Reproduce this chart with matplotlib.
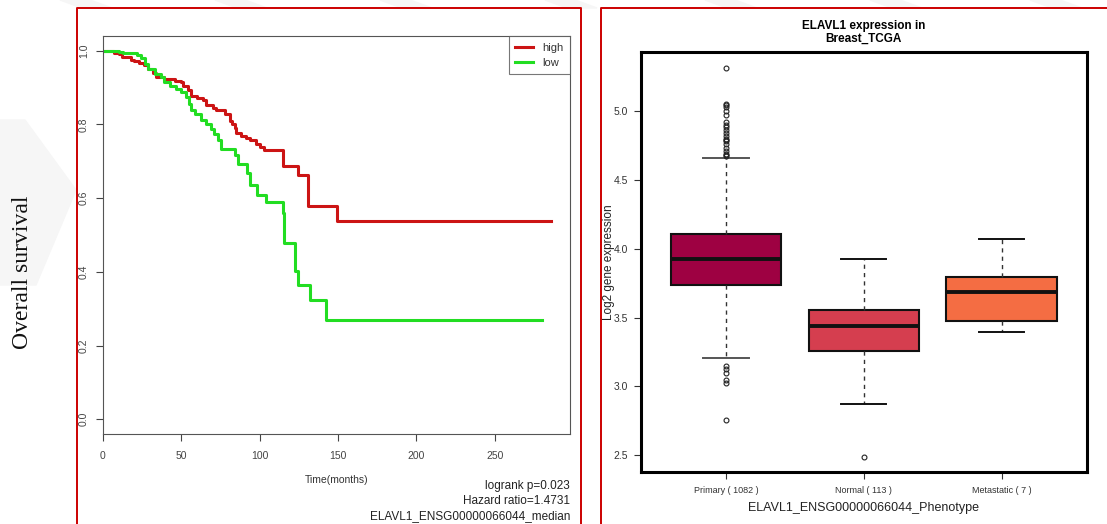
import matplotlib
matplotlib.use('Agg')
import matplotlib.pyplot as plt
from matplotlib.lines import Line2D
from matplotlib.patches import Polygon
import numpy as np

## data
# Kaplan-Meier curves (months, survival)
high_t = [0, 7, 10, 12, 18, 20, 23, 26, 29, 32, 34, 39, 46, 50, 51, 54, 56, 60, 64, 66,
          70, 72, 78, 81, 82, 84, 85, 88, 91, 94, 97.5, 100, 102.5, 115, 124.5, 131, 149, 286]
high_s = [1.0, 0.995, 0.99, 0.982, 0.976, 0.971, 0.967, 0.96, 0.95, 0.94, 0.93, 0.923, 0.919,
          0.914, 0.905, 0.894, 0.878, 0.872, 0.865, 0.852, 0.845, 0.838, 0.829, 0.81, 0.80,
          0.79, 0.776, 0.77, 0.764, 0.757, 0.748, 0.739, 0.73, 0.687, 0.662, 0.578, 0.538, 0.538]
low_t = [0, 10, 13, 22, 24.5, 27, 29, 33, 37, 39, 43, 46.5, 50, 52.7, 55, 56, 59, 62.5, 66,
         68.6, 71, 73.5, 75.5, 84.5, 86, 92, 93.6, 98.5, 104, 114.7, 115.7, 122.5, 124.5,
         132.4, 142.6, 280]
low_s = [1.0, 0.996, 0.993, 0.988, 0.98, 0.964, 0.95, 0.937, 0.928, 0.914, 0.905, 0.896,
         0.887, 0.874, 0.856, 0.838, 0.829, 0.813, 0.802, 0.788, 0.775, 0.757, 0.734, 0.716,
         0.694, 0.667, 0.635, 0.608, 0.59, 0.559, 0.477, 0.403, 0.365, 0.323, 0.27, 0.27]
km_xticks = [0, 50, 100, 150, 200, 250]
km_yticks = [0.0, 0.2, 0.4, 0.6, 0.8, 1.0]
km_notes = ['logrank p=0.023', 'Hazard ratio=1.4731', 'ELAVL1_ENSG00000066044_median']

# box plot summaries
groups = ['Primary ( 1082 )', 'Normal ( 113 )', 'Metastatic ( 7 )']
whis_lo = [3.21, 2.874, 3.396]
q1 = [3.739, 3.258, 3.473]
med = [3.923, 3.437, 3.686]
q3 = [4.107, 3.553, 3.795]
whis_hi = [4.657, 3.927, 4.07]
primary_out = [5.31, 5.05, 5.04, 5.03, 5.00, 4.97, 4.92, 4.90, 4.88, 4.86, 4.84, 4.82, 4.80,
               4.79, 4.78, 4.76, 4.73, 4.71, 4.69, 4.68, 4.67,
               3.15, 3.126, 3.097, 3.044, 3.025, 2.758]
normal_out = [2.49]
meta_out = []
box_colors = ['#9E0142', '#D53E4F', '#F46D43']
box_yticks = [2.5, 3.0, 3.5, 4.0, 4.5, 5.0]

W, H = 1107, 524
fig = plt.figure(figsize=(W/100, H/100), dpi=100)
plt.rcParams['font.family'] = ['Liberation Sans', 'DejaVu Sans']

def fx(x):
    return x / W
def fy(y):
    return 1 - y / H

# faint background watermark
wm = '#f6f6f6'
for x0 in [60, 215, 380, 545, 705, 870, 1030]:
    fig.patches.append(Polygon([(fx(x0), fy(0)), (fx(x0+30), fy(0)), (fx(x0+52), fy(8)), (fx(x0+22), fy(8))],
                               closed=True, transform=fig.transFigure, color=wm, zorder=0))
fig.patches.append(Polygon([(fx(0), fy(120)), (fx(25), fy(120)), (fx(76), fy(190)), (fx(36), fy(285)), (fx(0), fy(285))],
                           closed=True, transform=fig.transFigure, color=wm, zorder=0))

# red frames
red = '#CC0000'
fig.lines.append(Line2D([fx(77), fx(77), fx(580.5), fx(580.5)], [fy(H+2), fy(8), fy(8), fy(H+2)],
                        transform=fig.transFigure, color=red, lw=1.4))
fig.lines.append(Line2D([fx(601), fx(601), fx(W+2)], [fy(H+2), fy(8), fy(8)],
                        transform=fig.transFigure, color=red, lw=1.4))

######## left: survival curves ########
ax1 = fig.add_axes([fx(103), fy(434), fx(570) - fx(103), fy(36) - fy(434)])
ax1.step(high_t, high_s, where='post', color='#CC1414', lw=2.2, label='high')
ax1.step(low_t, low_s, where='post', color='#22DD22', lw=2.2, label='low')
ax1.set_xlim(0, 298)
ax1.set_ylim(-0.04, 1.04)
ax1.set_xticks(km_xticks)
ax1.set_yticks(km_yticks)
ax1.set_yticklabels(['%.1f' % v for v in km_yticks], rotation=90, va='center')
ax1.tick_params(labelsize=7.5, colors='#444', length=5, width=0.8, pad=5)
ax1.tick_params(axis='x', pad=7)
for sp in ax1.spines.values():
    sp.set_color('#555')
    sp.set_linewidth(0.8)
leg = ax1.legend(loc='upper right', fontsize=8, frameon=True, fancybox=False, borderaxespad=0,
                 handlelength=1.6, handletextpad=0.8, labelspacing=0.45, borderpad=0.6)
leg.get_frame().set_edgecolor('#555')
leg.get_frame().set_linewidth(0.8)
for t in leg.get_texts():
    t.set_color('#333')

fig.text(fx(337), fy(480), 'Time(months)', ha='center', va='center', fontsize=7.5, color='#333')
for i, s in enumerate(km_notes):
    fig.text(fx(570), fy(489 + 15*i), s, ha='right', va='baseline', fontsize=8.5, color='#222')
fig.text(fx(23), fy(272), 'Overall survival', rotation=90, ha='center', va='center',
         fontsize=17, family='Liberation Serif', color='#111')

######## right: box plot ########
ax2 = fig.add_axes([fx(640.5), fy(472), fx(1087) - fx(640.5), fy(52) - fy(472)])
outs = [primary_out, normal_out, meta_out]
stats = []
for i in range(len(groups)):
    stats.append(dict(label=groups[i], whislo=whis_lo[i], q1=q1[i], med=med[i], q3=q3[i],
                      whishi=whis_hi[i], fliers=outs[i]))
bp = ax2.bxp(stats, positions=[1, 2, 3], widths=0.8, capwidths=0.33, patch_artist=True,
             boxprops=dict(edgecolor='#111', linewidth=1.5),
             medianprops=dict(color='#111', linewidth=2.8, solid_capstyle='butt'),
             whiskerprops=dict(color='#333', linewidth=1.0, linestyle=(0, (3, 3))),
             capprops=dict(color='#111', linewidth=1.4),
             flierprops=dict(marker='o', markersize=3.5, markerfacecolor='none',
                             markeredgecolor='#222', markeredgewidth=0.8))
for patch, c in zip(bp['boxes'], box_colors):
    patch.set_facecolor(c)
for cap in bp['caps'][:2]:
    cap.set_color('#555')
ax2.set_xlim(0.38, 3.62)
ax2.set_ylim(2.379, 5.428)
ax2.set_yticks(box_yticks)
ax2.set_yticklabels(['%.1f' % v for v in box_yticks])
ax2.tick_params(axis='y', labelsize=7.5, colors='#333', length=5, width=0.8, pad=4)
ax2.tick_params(axis='x', labelsize=6.5, colors='#333', length=5, width=0.8, pad=5)
for sp in ax2.spines.values():
    sp.set_color('black')
    sp.set_linewidth(2.2)
ax2.set_title('ELAVL1 expression in\nBreast_TCGA', fontsize=8.5, fontweight='bold', pad=7,
              linespacing=1.1)
ax2.set_ylabel('Log2 gene expression', fontsize=8.5, color='#222', labelpad=-1)
ax2.set_xlabel('ELAVL1_ENSG00000066044_Phenotype', fontsize=9, color='#222', labelpad=5)

fig.savefig('out.png', dpi=100)
